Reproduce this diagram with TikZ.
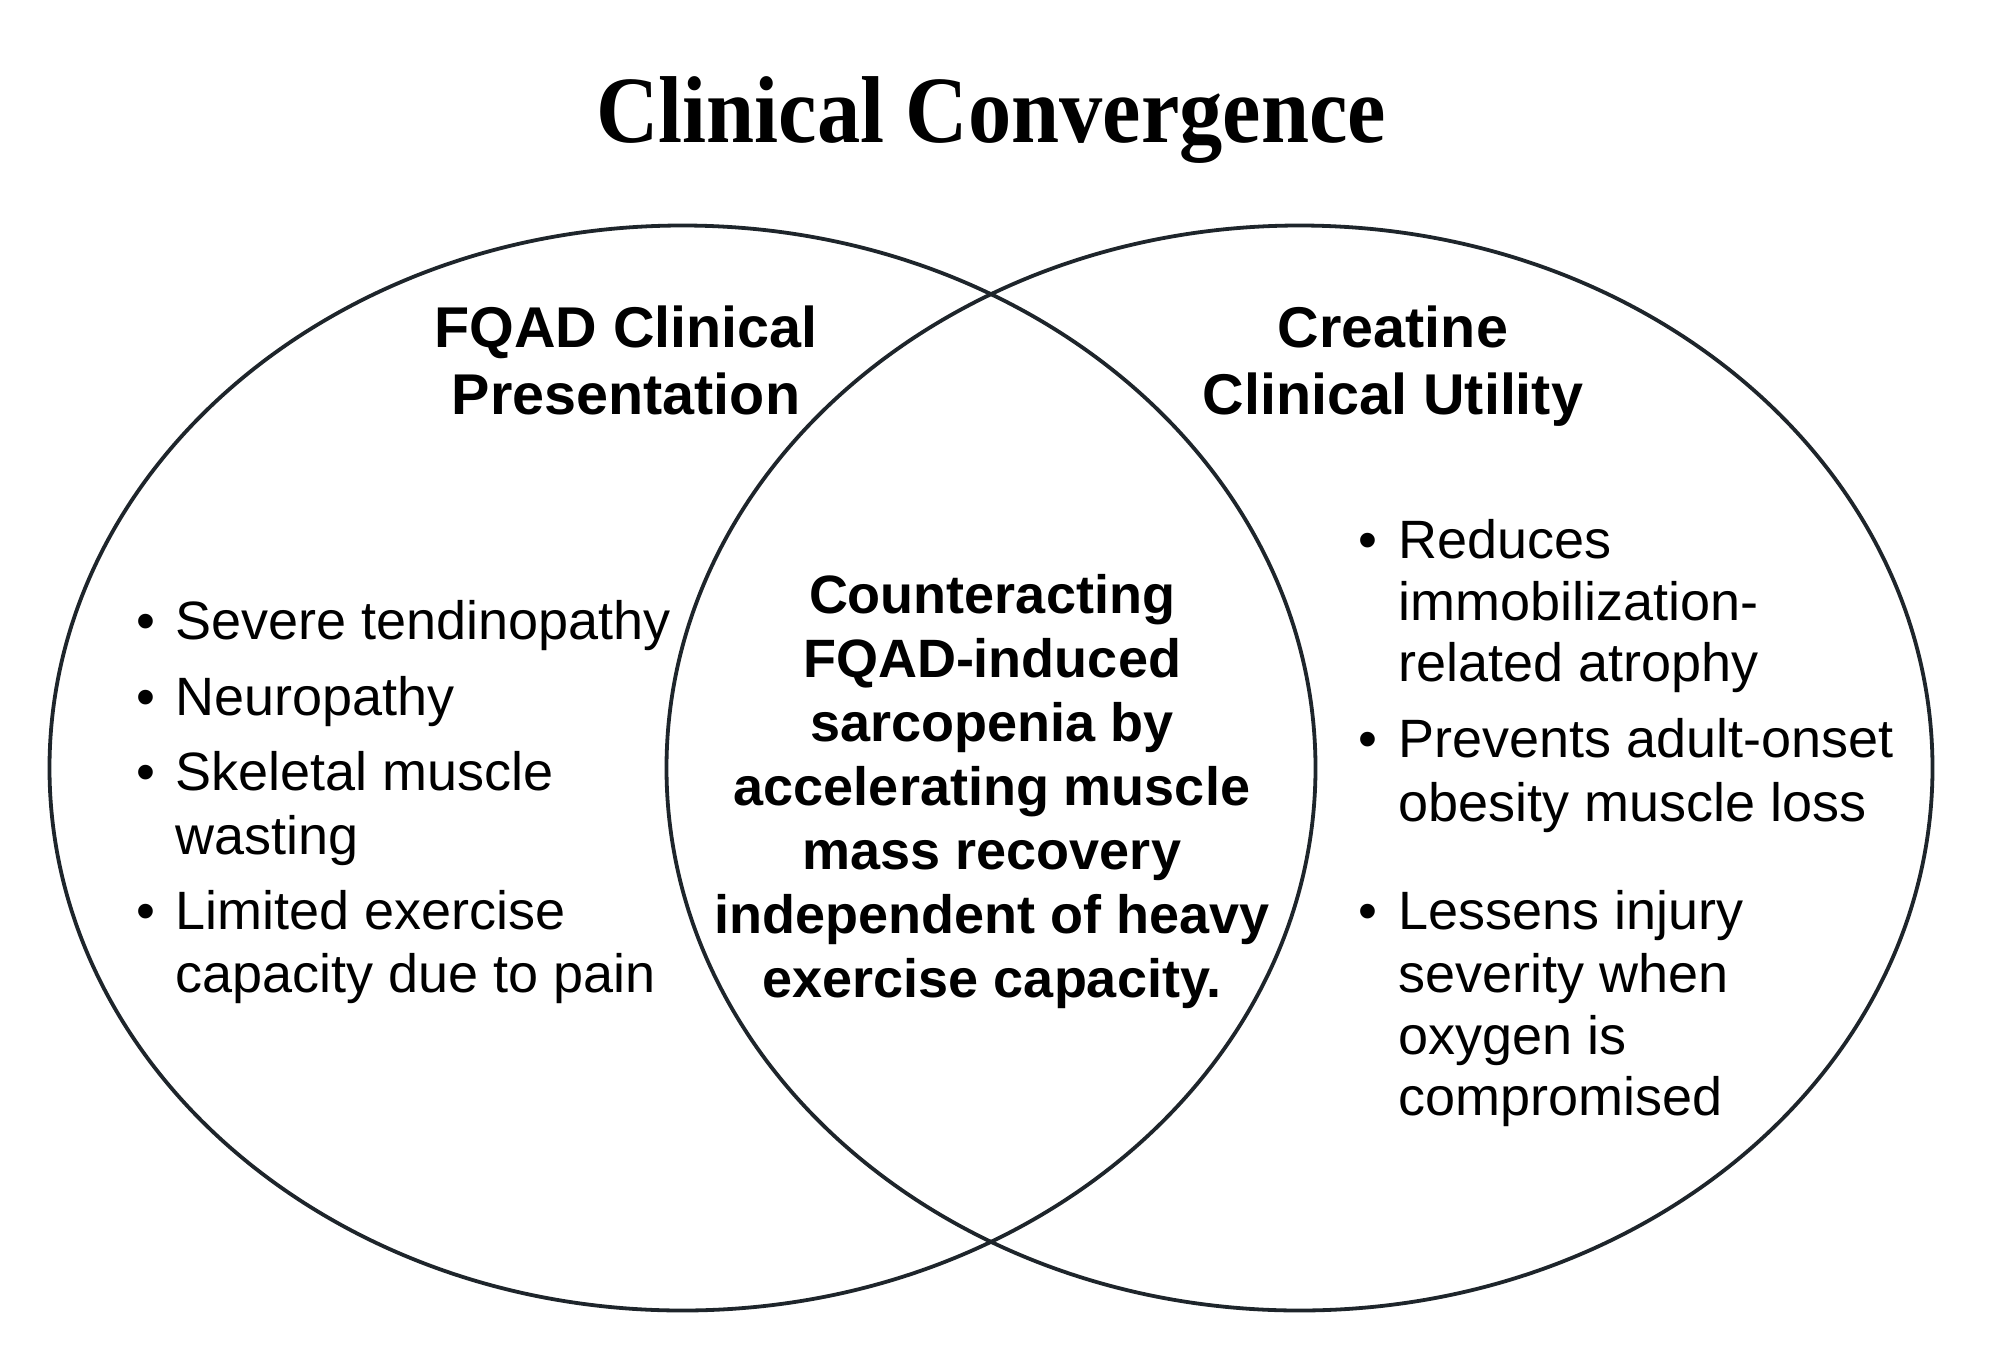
\documentclass[tikz,border=0pt]{standalone}
\usepackage{fontspec}
\setmainfont{Liberation Sans}
\newfontfamily\titlefont[FakeStretch=0.91]{Liberation Serif}
\usetikzlibrary{shapes.geometric}
\definecolor{ringcol}{HTML}{1E252B}
\tikzset{
  setring/.style={ellipse, draw=ringcol, line width=3.8pt, minimum width=1266pt, minimum height=1085pt, inner sep=0pt, outer sep=0pt},
  headline/.style={font=\fontsize{57.5}{67}\selectfont\bfseries, inner sep=0pt, anchor=base},
  itemline/.style={font=\fontsize{54}{63.5}\selectfont, inner sep=0pt, anchor=base west},
  bulletdot/.style={font=\fontsize{54}{63.5}\selectfont, inner sep=0pt, anchor=base},
  coreline/.style={font=\fontsize{54}{64}\selectfont\bfseries, inner sep=0pt, anchor=base},
  titletext/.style={font=\titlefont\bfseries\fontsize{95}{100}\selectfont, inner sep=0pt, anchor=base},
}
\begin{document}
\begin{tikzpicture}[x=1pt,y=-1pt]
\useasboundingbox[fill=white] (0,0) rectangle (1990,1358);

% title
\node[titletext] (title) at (991,142) {Clinical Convergence};

% the two sets
\node[setring] (leftset) at (682.5,768) {};
\node[setring] (rightset) at (1299.5,768) {};

% headings
\node[headline] (lh1) at (626,347) {FQAD Clinical};
\node[headline] (lh2) at (626,414) {Presentation};
\node[headline] (rh1) at (1393,347) {Creatine};
\node[headline] (rh2) at (1393,414) {Clinical Utility};

% left list
\node[bulletdot] (lb1) at (146,639) {\textbullet};
\node[itemline] (l1) at (175,639) {Severe tendinopathy};
\node[bulletdot] (lb2) at (146,715) {\textbullet};
\node[itemline] (l2) at (175,715) {Neuropathy};
\node[bulletdot] (lb3) at (146,790) {\textbullet};
\node[itemline] (l3a) at (175,790) {Skeletal muscle};
\node[itemline] (l3b) at (175,854) {wasting};
\node[bulletdot] (lb4) at (146,929) {\textbullet};
\node[itemline] (l4a) at (175,929) {Limited exercise};
\node[itemline] (l4b) at (175,992) {capacity due to pain};

% centre text
\node[coreline] (c1) at (992,613) {Counteracting};
\node[coreline] (c2) at (992,677) {FQAD-induced};
\node[coreline] (c3) at (992,741) {sarcopenia by};
\node[coreline] (c4) at (992,805) {accelerating muscle};
\node[coreline] (c5) at (992,869) {mass recovery};
\node[coreline] (c6) at (992,933) {independent of heavy};
\node[coreline] (c7) at (992,997) {exercise capacity.};

% right list
\node[bulletdot] (rb1) at (1368,558) {\textbullet};
\node[itemline] (r1a) at (1398,558) {Reduces};
\node[itemline] (r1b) at (1398,620) {immobilization-};
\node[itemline] (r1c) at (1398,681) {related atrophy};
\node[bulletdot] (rb2) at (1368,757) {\textbullet};
\node[itemline] (r2a) at (1398,757) {Prevents adult-onset};
\node[itemline] (r2b) at (1398,821) {obesity muscle loss};
\node[bulletdot] (rb3) at (1368,929) {\textbullet};
\node[itemline] (r3a) at (1398,929) {Lessens injury};
\node[itemline] (r3b) at (1398,992) {severity when};
\node[itemline] (r3c) at (1398,1054) {oxygen is};
\node[itemline] (r3d) at (1398,1115) {compromised};
\end{tikzpicture}
\end{document}
